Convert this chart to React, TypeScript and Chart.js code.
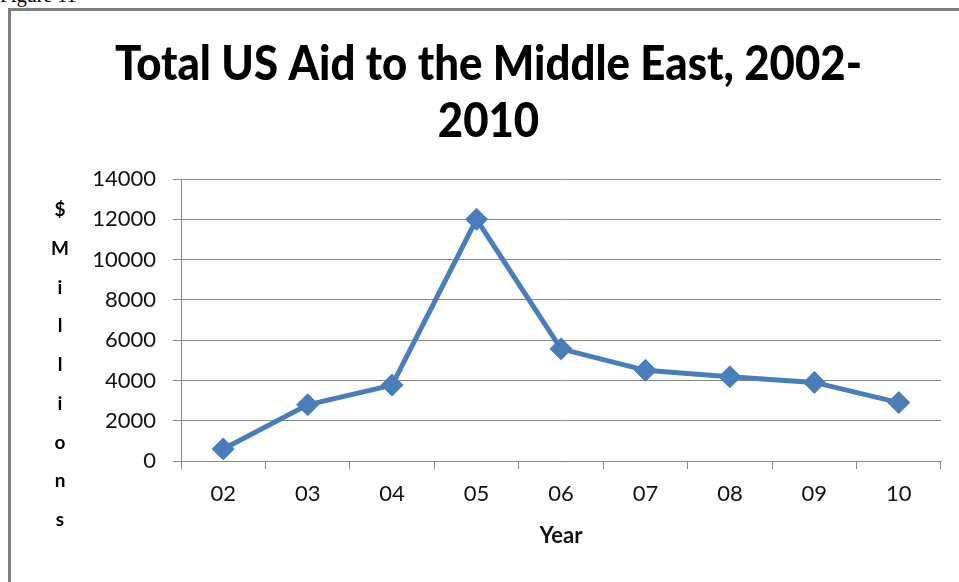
import React, { useEffect, useRef } from "react";
import { Chart, registerables } from "chart.js";

Chart.register(...registerables);

const categories = ["02", "03", "04", "05", "06", "07", "08", "09", "10"];
const aidValues = [600, 2790, 3770, 12000, 5570, 4500, 4180, 3900, 2900];
const titleLines = ["Total US Aid to the Middle East, 2002-", "2010"];
const yLabelLetters = ["$", "M", "i", "l", "l", "i", "o", "n", "s"];
const xTitle = "Year";
const yMin = 0;
const yMax = 14000;
const yStep = 2000;

const W = 948;
const H = 571;

const customText = {
  id: "customText",
  afterDraw(chart: any) {
    const ctx = chart.ctx;
    ctx.save();
    ctx.fillStyle = "#000";
    ctx.textAlign = "center";
    ctx.textBaseline = "alphabetic";
    ctx.font = "900 48px Lato";
    const w1 = ctx.measureText(titleLines[0]).width;
    const sx = 747 / w1;
    const cx = 477.5;
    const baselines = [69, 126];
    titleLines.forEach((t, i) => {
      ctx.save();
      ctx.translate(cx, baselines[i]);
      ctx.scale(sx, 1);
      ctx.fillText(t, 0, 0);
      ctx.restore();
    });
    ctx.font = "bold 19px Lato";
    yLabelLetters.forEach((ch, i) => {
      ctx.fillText(ch, 49, 205 + i * 38.75);
    });
    ctx.restore();
  },
};

export default function App() {
  const ref = useRef<HTMLCanvasElement>(null);
  useEffect(() => {
    if (!ref.current) return;
    const chart = new Chart(ref.current, {
      type: "line",
      data: {
        labels: categories,
        datasets: [
          {
            data: aidValues,
            borderColor: "#4a7ebb",
            backgroundColor: "#4a7ebb",
            borderWidth: 5,
            pointStyle: "rectRot",
            pointRadius: 11,
            pointBorderWidth: 1,
            pointBackgroundColor: "#4a7ebb",
            pointBorderColor: "#4a7ebb",
            tension: 0,
          },
        ],
      },
      options: {
        responsive: false,
        animation: false,
        devicePixelRatio: 1,
        layout: { padding: { left: 70, right: 18, top: 168, bottom: 1 } },
        plugins: {
          legend: { display: false },
          tooltip: { enabled: false },
          title: { display: false },
        },
        scales: {
          x: {
            offset: true,
            afterFit: (s: any) => {
              s.height = 120;
            },
            grid: {
              offset: true,
              drawOnChartArea: false,
              drawTicks: true,
              tickLength: 8,
              color: "#878787",
              lineWidth: 1,
            },
            border: { display: true, color: "#878787", width: 1 },
            ticks: {
              color: "#111",
              font: { family: "Lato", size: 22 },
              padding: 12,
              maxRotation: 0,
            },
            title: {
              display: true,
              text: xTitle,
              color: "#111",
              font: { family: "Lato", size: 22, weight: "bold" },
              padding: { top: 0, bottom: 32 },
            },
          },
          y: {
            min: yMin,
            max: yMax,
            afterFit: (s: any) => {
              s.width = 100;
            },
            grid: {
              color: "#878787",
              lineWidth: 1,
              drawTicks: true,
              tickLength: 8,
            },
            border: { display: true, color: "#878787", width: 1 },
            ticks: {
              stepSize: yStep,
              color: "#111",
              font: { family: "Lato", size: 22 },
              padding: 17,
              callback: (v: any) => String(v),
            },
          },
        },
      },
      plugins: [customText],
    });
    return () => chart.destroy();
  }, []);

  return (
    <div
      style={{
        position: "absolute",
        left: 0,
        top: 0,
        width: 959,
        height: 582,
        overflow: "hidden",
        background: "#fff",
      }}
    >
      <div
        style={{
          position: "absolute",
          left: 0,
          top: -17,
          fontFamily: "'Liberation Serif', serif",
          fontSize: 20,
          lineHeight: "24px",
          color: "#000",
        }}
      >
        Figure 11
      </div>
      <div
        style={{
          position: "absolute",
          left: 8,
          top: 8,
          width: 1000,
          height: 700,
          borderLeft: "3px solid #808080",
          borderTop: "3px solid #808080",
        }}
      />
      <canvas
        ref={ref}
        width={W}
        height={H}
        style={{ position: "absolute", left: 11, top: 11, width: W, height: H }}
      />
    </div>
  );
}
